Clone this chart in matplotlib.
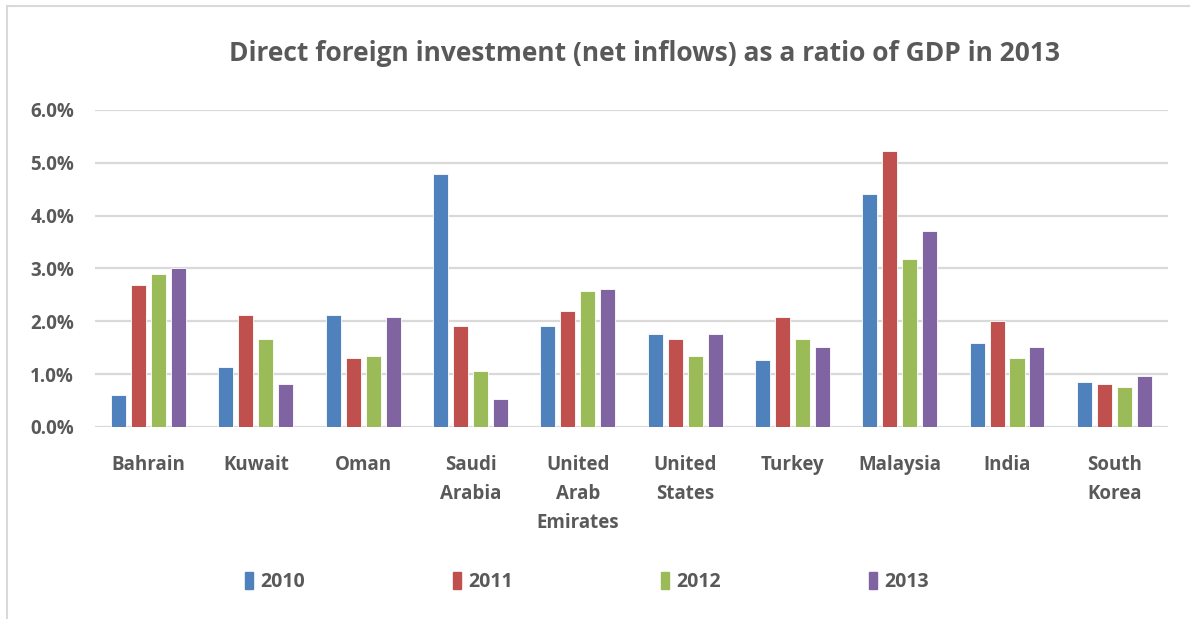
import matplotlib
matplotlib.use("Agg")
import matplotlib.pyplot as plt
import numpy as np
from matplotlib.lines import Line2D
from matplotlib.patches import Patch
from matplotlib.ticker import FuncFormatter

plt.rcParams["font.family"] = ["Open Sans", "DejaVu Sans"]
plt.rcParams["font.weight"] = "bold"

countries = ["Bahrain", "Kuwait", "Oman", "Saudi\nArabia", "United\nArab\nEmirates",
             "United\nStates", "Turkey", "Malaysia", "India", "South\nKorea"]
years = ["2010", "2011", "2012", "2013"]

fdi_2010 = [0.61, 1.14, 2.12, 4.78, 1.91, 1.76, 1.27, 4.41, 1.59, 0.85]
fdi_2011 = [2.69, 2.12, 1.30, 1.91, 2.20, 1.67, 2.08, 5.23, 2.00, 0.81]
fdi_2012 = [2.90, 1.67, 1.34, 1.06, 2.58, 1.34, 1.67, 3.18, 1.31, 0.76]
fdi_2013 = [3.01, 0.81, 2.08, 0.53, 2.61, 1.76, 1.51, 3.71, 1.51, 0.97]

colors = ["#4F81BD", "#C0504D", "#9BBB59", "#8064A2"]
text_gray = "#595959"

fig = plt.figure(figsize=(11.9, 6.19), dpi=100)
ax = fig.add_axes([0.0798, 0.3102, 0.9017, 0.5121])

x = np.arange(len(countries))
width = 0.14
step = 0.186
series = [fdi_2010, fdi_2011, fdi_2012, fdi_2013]
for i, (vals, col, yr) in enumerate(zip(series, colors, years)):
    ax.bar(x + (i - 1.5) * step, np.array(vals) / 100, width, color=col,
           edgecolor="white", linewidth=0.6, label=yr, zorder=3)

ax.set_xlim(-0.5, len(countries) - 0.5)
ax.set_ylim(0, 0.06)
ax.set_yticks(np.arange(0, 0.061, 0.01))
ax.yaxis.set_major_formatter(FuncFormatter(lambda v, p: f"{v * 100:.1f}%"))
ax.grid(axis="y", color="#D9D9D9", linewidth=1.6, zorder=0)
for s in ax.spines.values():
    s.set_visible(False)
ax.tick_params(axis="both", length=0, labelsize=13.5, labelcolor=text_gray)
ax.tick_params(axis="y", pad=15)
ax.tick_params(axis="x", pad=20)
ax.set_xticks(x)
ax.set_xticklabels(countries, va="top", linespacing=1.6)

fig.suptitle("Direct foreign investment (net inflows) as a ratio of GDP in 2013",
             x=0.542, y=0.935, fontsize=19, fontweight="bold", color=text_gray)

handles = [Patch(facecolor=c, edgecolor=c) for c in colors]
fig.legend(handles, years, loc="center", bbox_to_anchor=(0.493, 0.06), ncol=4,
           frameon=False, fontsize=14, labelcolor=text_gray,
           columnspacing=7.6, handletextpad=0.35, handlelength=0.45, handleheight=1.0)

# chart frame on top and left edges
fig.add_artist(Line2D([0.0063, 1.0], [0.99, 0.99], color="#D9D9D9", linewidth=1.5,
                      transform=fig.transFigure))
fig.add_artist(Line2D([0.0063, 0.0063], [0.0, 0.99], color="#D9D9D9", linewidth=1.5,
                      transform=fig.transFigure))

fig.savefig("out.png", dpi=100, facecolor="white")
